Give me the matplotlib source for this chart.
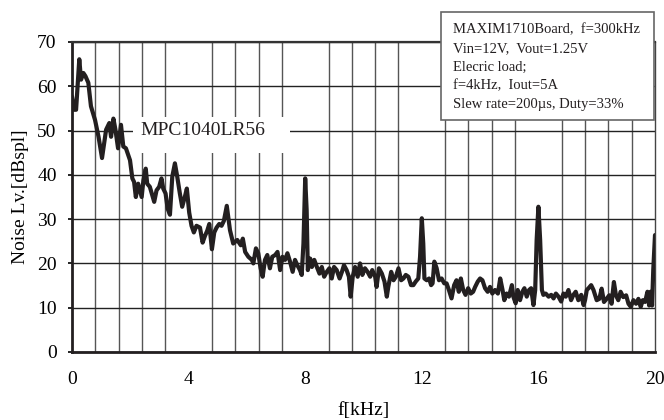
import matplotlib
matplotlib.use("Agg")
import matplotlib.pyplot as plt
import numpy as np
from matplotlib.patches import Rectangle

plt.rcParams['font.family'] = ['Liberation Serif', 'DejaVu Serif']

freq_khz = [
    0.00, 0.07, 0.14, 0.25, 0.31, 0.39, 0.46, 0.56, 0.65, 0.79, 0.91, 1.03, 1.17, 1.28, 1.34,
    1.42, 1.49, 1.58, 1.68, 1.76, 1.85, 1.99, 2.07, 2.13, 2.19, 2.27, 2.33, 2.39, 2.45, 2.53,
    2.58, 2.67, 2.77, 2.82, 2.90, 2.99, 3.07, 3.13, 3.21, 3.28, 3.36, 3.44, 3.53, 3.61, 3.70,
    3.78, 3.87, 3.94, 4.02, 4.10, 4.18, 4.27, 4.39, 4.48, 4.56, 4.64, 4.71, 4.80, 4.88, 4.96,
    5.05, 5.13, 5.21, 5.31, 5.42, 5.53, 5.67, 5.79, 5.86, 5.94, 6.05, 6.17, 6.22, 6.31, 6.39,
    6.47, 6.54, 6.62, 6.70, 6.79, 6.87, 6.97, 7.05, 7.14, 7.22, 7.31, 7.39, 7.48, 7.57, 7.65,
    7.73, 7.82, 7.88, 7.94, 8.00, 8.05, 8.09, 8.17, 8.23, 8.31, 8.40, 8.49, 8.57, 8.65, 8.74,
    8.83, 8.91, 8.99, 9.08, 9.18, 9.26, 9.33, 9.42, 9.50, 9.56, 9.63, 9.71, 9.80, 9.88, 9.96,
    10.05, 10.14, 10.23, 10.30, 10.40, 10.45, 10.53, 10.63, 10.72, 10.80, 10.85, 10.95, 11.03, 11.11, 11.20,
    11.29, 11.37, 11.45, 11.54, 11.63, 11.71, 11.79, 11.88, 11.94, 12.00, 12.05, 12.09, 12.17, 12.25, 12.32,
    12.37, 12.43, 12.51, 12.59, 12.68, 12.77, 12.85, 12.93, 13.02, 13.11, 13.19, 13.27, 13.34, 13.42, 13.50,
    13.59, 13.68, 13.76, 13.83, 13.92, 14.00, 14.08, 14.17, 14.26, 14.34, 14.42, 14.51, 14.61, 14.69, 14.77,
    14.83, 14.91, 14.99, 15.09, 15.14, 15.22, 15.29, 15.37, 15.45, 15.52, 15.60, 15.68, 15.75, 15.83, 15.89,
    15.94, 16.00, 16.06, 16.12, 16.17, 16.25, 16.35, 16.44, 16.52, 16.60, 16.69, 16.78, 16.86, 16.94, 17.03,
    17.12, 17.20, 17.28, 17.37, 17.47, 17.55, 17.60, 17.66, 17.72, 17.81, 17.89, 18.00, 18.09, 18.17, 18.25,
    18.34, 18.43, 18.51, 18.59, 18.66, 18.74, 18.82, 18.91, 19.01, 19.09, 19.17, 19.26, 19.35, 19.43, 19.51,
    19.58, 19.66, 19.74, 19.80, 19.85, 19.90, 19.94, 20.00,
]
noise_db = [
    57.7, 54.7, 54.7, 66.1, 61.5, 63.0, 62.3, 60.8, 55.5, 52.4, 48.6, 43.8, 50.2, 51.7, 48.6,
    52.7, 50.2, 46.0, 51.3, 46.4, 46.0, 43.3, 39.2, 38.4, 35.0, 38.0, 36.5, 35.0, 38.8, 41.4,
    38.0, 37.3, 35.0, 33.9, 36.5, 37.3, 39.2, 36.9, 35.8, 32.4, 31.0, 39.6, 42.6, 39.6, 35.8,
    32.8, 35.0, 36.9, 31.5, 28.5, 27.0, 28.5, 28.1, 24.7, 26.2, 27.4, 28.9, 23.2, 27.0, 28.1,
    28.9, 28.5, 29.6, 33.0, 27.5, 24.5, 25.3, 24.1, 25.6, 22.6, 21.5, 20.8, 20.0, 23.4, 22.3,
    18.9, 17.0, 20.8, 21.9, 18.9, 21.5, 21.9, 22.6, 18.5, 21.5, 20.8, 22.3, 20.4, 18.1, 20.8,
    19.6, 18.5, 17.4, 24.5, 39.2, 32.0, 18.5, 21.1, 19.2, 20.8, 19.2, 17.7, 19.2, 17.0, 18.1,
    18.9, 16.6, 19.2, 18.5, 16.6, 18.1, 19.6, 18.5, 17.0, 12.5, 17.0, 19.2, 17.0, 20.0, 17.4,
    18.9, 18.1, 17.0, 18.5, 17.0, 14.7, 18.9, 17.7, 15.9, 12.5, 14.7, 18.1, 16.2, 17.0, 18.9,
    16.2, 16.6, 17.4, 17.0, 15.1, 15.1, 15.9, 16.6, 21.5, 30.2, 24.5, 16.6, 16.2, 16.6, 15.1,
    15.5, 20.4, 18.9, 16.2, 16.6, 15.5, 15.5, 14.0, 12.1, 15.1, 16.2, 13.6, 16.6, 14.0, 12.9,
    14.4, 13.2, 13.6, 14.7, 15.9, 16.6, 16.2, 14.4, 13.6, 14.7, 13.2, 14.0, 13.2, 16.6, 14.0,
    11.7, 13.2, 12.5, 15.1, 12.5, 11.0, 14.0, 11.7, 13.6, 14.4, 12.5, 14.0, 14.4, 10.6, 14.0,
    25.3, 32.8, 25.3, 14.0, 12.9, 13.2, 12.5, 12.9, 12.1, 13.2, 12.5, 11.4, 13.2, 12.5, 14.0,
    11.7, 12.9, 13.6, 11.7, 12.9, 10.6, 11.7, 14.0, 14.4, 15.1, 14.0, 11.7, 12.0, 14.3, 11.3,
    12.0, 12.8, 10.9, 15.8, 12.8, 11.7, 13.6, 12.4, 12.8, 10.9, 10.2, 11.7, 10.9, 12.0, 10.2,
    11.7, 11.3, 13.6, 10.5, 13.6, 10.5, 18.5, 26.4,
]

x_tick_values = [0, 4, 8, 12, 16, 20]
y_tick_values = [0, 10, 20, 30, 40, 50, 60, 70]
curve_label = "MPC1040LR56"
info_lines = [
    "MAXIM1710Board,  f=300kHz",
    "Vin=12V,  Vout=1.25V",
    "Elecric load;",
    "f=4kHz,  Iout=5A",
    "Slew rate=200\u00b5s, Duty=33%",
]

W, H = 664, 420
fig = plt.figure(figsize=(W / 100, H / 100), dpi=100)
ax = fig.add_axes([72 / W, 1 - 352 / H, (655 - 72) / W, (352 - 42) / H])

ax.set_xlim(0, 20)
ax.set_ylim(0, 70)
ax.set_xticks(x_tick_values)
ax.set_xticks(np.arange(0, 20.01, 0.8), minor=True)
ax.set_yticks(y_tick_values)

ax.grid(True, which='minor', axis='x', color='#555555', linewidth=1.0)
ax.grid(True, which='major', axis='y', color='#222222', linewidth=1.0)
ax.set_axisbelow(True)

ax.tick_params(axis='x', which='both', length=0, pad=14, labelsize=14)
ax.tick_params(axis='y', which='major', length=3, width=1.2, pad=8, labelsize=14, direction='out')
ax.tick_params(axis='y', which='minor', length=0)

for s in ['left', 'bottom']:
    ax.spines[s].set_linewidth(2.0)
    ax.spines[s].set_color('#231f20')
ax.spines['top'].set_linewidth(1.6)
ax.spines['top'].set_color('#333333')
ax.spines['right'].set_linewidth(1.0)
ax.spines['right'].set_color('#444444')

ax.plot(freq_khz, noise_db, color='#231f20', linewidth=3.0, solid_joinstyle='round',
        solid_capstyle='round', zorder=4)

# white label box
ax.add_patch(Rectangle(((133 - 72) / 583, (352 - 153) / 310), (290 - 133) / 583, 36 / 310,
                       transform=ax.transAxes, facecolor='white', edgecolor='none', zorder=2))
ax.text((140 - 72) / 583, 50 / 70, curve_label, transform=ax.transAxes, fontsize=14,
        ha='left', va='center', color='#231f20', zorder=3)

ax.set_xlabel("f[kHz]", fontsize=14, labelpad=10)
ax.set_ylabel("Noise Lv.[dBspl]", fontsize=14, labelpad=6)

# info box (figure coords)
fig.patches.append(Rectangle((441 / W, 1 - 120 / H), (654 - 441) / W, (120 - 12) / H,
                             transform=fig.transFigure, facecolor='white', edgecolor='#666666',
                             linewidth=1.2, zorder=5))
for i, line in enumerate(info_lines):
    fig.text(453 / W, 1 - (29.5 + 18.8 * i) / H, line, fontsize=10.5, ha='left', va='center',
             color='#231f20', zorder=6)

fig.savefig("out.png", dpi=100)
